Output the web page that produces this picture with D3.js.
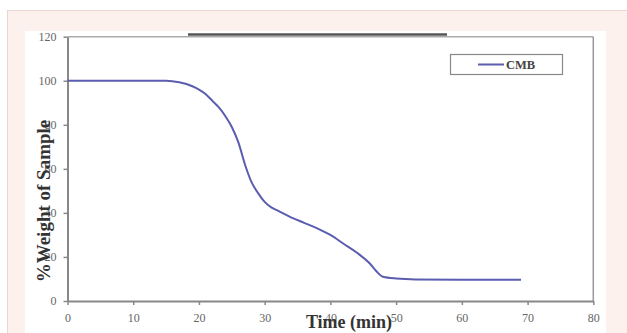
<!DOCTYPE html>
<html><head><meta charset="utf-8">
<script src="https://cdn.jsdelivr.net/npm/d3@7"></script>
<style>body{margin:0;background:#fff}svg{display:block}</style>
</head><body>
<svg id="c" width="627" height="333"></svg>
<script>
const times = [0,15,17,19,20,21,22,23,24,25,26,27,28,29,30,31,32,34,36,38,40,42,44,46,47,48,50,53,60,69];
const weights = [100,100,99.3,97.5,96,94,91,88,84,79,72,62,54,49,45,42.5,41,38,35.5,33,30,26,22,17,13.5,11,10.2,9.8,9.7,9.7];
const xTicks = [0,10,20,30,40,50,60,70,80];
const yTicks = [0,20,40,60,80,100,120];
const seriesName = "CMB";
const xTitle = "Time (min)";
const yTitle = "%Weight of Sample";

const svg = d3.select("#c");
svg.append("rect").attr("x",7.5).attr("y",10.5).attr("width",640).attr("height",340)
  .attr("fill","#fdf1ee").attr("stroke","#ead6d0");
svg.append("rect").attr("x",25).attr("y",31).attr("width",581).attr("height",310).attr("fill","#fff");

const L=67.5, R=593.3, T=36.7, B=301;
const x = d3.scaleLinear().domain([0,80]).range([L,R]);
const y = d3.scaleLinear().domain([0,120]).range([B,T]);

svg.append("line").attr("x1",L).attr("x2",R).attr("y1",T).attr("y2",T).attr("stroke","#aaa").attr("stroke-width",1.5);
svg.append("line").attr("x1",R).attr("x2",R).attr("y1",T).attr("y2",B).attr("stroke","#999").attr("stroke-width",1.5);
svg.append("line").attr("x1",188).attr("x2",447).attr("y1",34.5).attr("y2",34.5).attr("stroke","#555").attr("stroke-width",2.5);

const fontTick = "'Liberation Serif', 'Times New Roman', serif";
const xa = svg.append("g").attr("transform",`translate(0,${B})`)
  .call(d3.axisBottom(x).tickValues(xTicks).tickSize(4).tickSizeOuter(0).tickPadding(8));
const ya = svg.append("g").attr("transform",`translate(${L},0)`)
  .call(d3.axisLeft(y).tickValues(yTicks).tickSize(4).tickSizeOuter(0).tickPadding(7));
[xa,ya].forEach(a=>{
  a.select(".domain").attr("stroke","#888").attr("stroke-width",2);
  a.selectAll(".tick line").attr("stroke","#888").attr("stroke-width",1.5);
  a.selectAll(".tick text").attr("fill","#666").style("font-family",fontTick).style("font-size","12px");
});

const line = d3.line().x((d,i)=>x(times[i])).y(d=>y(d)).curve(d3.curveMonotoneX);
svg.append("path").datum(weights).attr("d",line).attr("fill","none")
  .attr("stroke","#5a5db0").attr("stroke-width",2);

svg.append("rect").attr("x",450.5).attr("y",54.5).attr("width",112).attr("height",20)
  .attr("fill","#fff").attr("stroke","#888").attr("stroke-width",1.2);
svg.append("line").attr("x1",478).attr("x2",504).attr("y1",64.5).attr("y2",64.5)
  .attr("stroke","#5a5db0").attr("stroke-width",2);
svg.append("text").attr("x",506).attr("y",69).text(seriesName)
  .style("font-family",fontTick).style("font-size","12.5px").style("font-weight","bold").attr("fill","#444");

svg.append("text").attr("x",349).attr("y",328).attr("text-anchor","middle").text(xTitle)
  .style("font-family",fontTick).style("font-size","18px").style("font-weight","bold").attr("fill","#333");
svg.append("text").attr("transform","translate(50,201) rotate(-90)").attr("text-anchor","middle").text(yTitle)
  .style("font-family",fontTick).style("font-size","19px").style("font-weight","bold").attr("fill","#333");
</script>
</body></html>
